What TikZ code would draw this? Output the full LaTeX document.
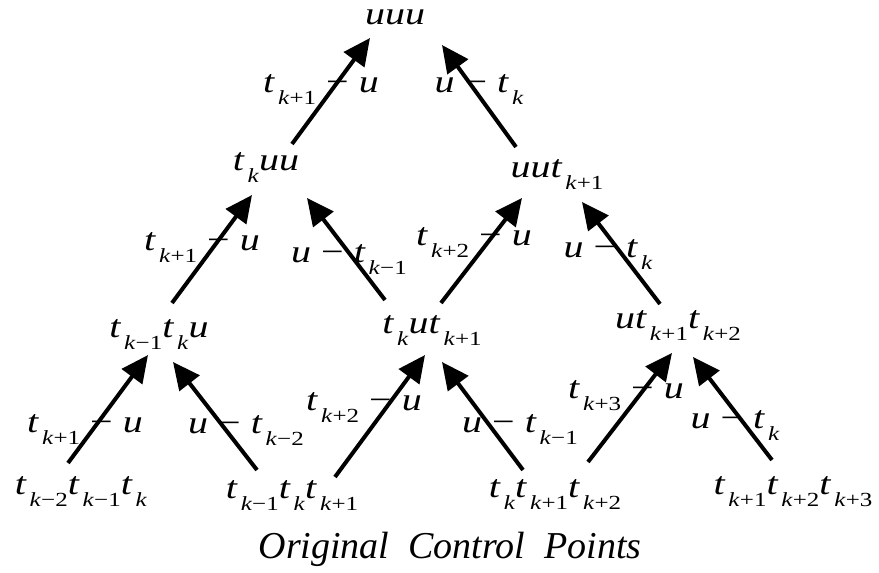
\documentclass[tikz,border=0pt]{standalone}
\usepackage{fontspec}
\setmainfont{Liberation Serif}
\newfontfamily\lblfont[FakeStretch=1.25]{Liberation Serif}
\usetikzlibrary{arrows.meta}
\newcommand{\tk}[1]{\textit{t}\kern1.5pt\raisebox{-6pt}{\fontsize{10}{10}\selectfont\textit{k}#1}}
\newcommand{\uu}{\textit{u}}
\tikzset{
	lbl/.style={anchor=base,inner sep=0pt,font=\lblfont\fontsize{16}{20}\selectfont},
	arr/.style={line width=2pt,-{Triangle[length=13.5pt,width=12.5pt]}}
}
\begin{document}
\begin{tikzpicture}[x=0.5pt,y=-0.5pt]
		\useasboundingbox (0,0) rectangle (879,573);
		% points of the triangle
		\node[lbl] (top) at (395,25) {\uu\uu\uu};
		\node[lbl] (r2a) at (266,170) {\tk{}\uu\uu};
		\node[lbl] (r2b) at (557,177) {\uu\uu\tk{+1}};
		\node[lbl] (r3a) at (159,337) {\tk{−1}\tk{}\uu};
		\node[lbl] (r3b) at (432,333) {\tk{}\uu\tk{+1}};
		\node[lbl] (r3c) at (678,328) {\uu\tk{+1}\tk{+2}};
		\node[lbl] (r4a) at (81,494) {\tk{−2}\tk{−1}\tk{}};
		\node[lbl] (r4b) at (292,498) {\tk{−1}\tk{}\tk{+1}};
		\node[lbl] (r4c) at (555,497) {\tk{}\tk{+1}\tk{+2}};
		\node[lbl] (r4d) at (793,494) {\tk{+1}\tk{+2}\tk{+3}};
		\node[anchor=base,inner sep=0pt,font=\fontsize{19}{23}\selectfont] (cap) at (450,558) {\textit{Original\ \ Control\ \ Points}};
		% bottom row
		\draw[arr] ([shift={(-13,-31)}]r4a.base) -- ([shift={(-11,18)}]r3a.base);
		\draw[arr] ([shift={(-35,-28)}]r4b.base) -- ([shift={(14,25)}]r3a.base);
		\draw[arr] ([shift={(43,-21)}]r4b.base) -- ([shift={(-7,22)}]r3b.base);
		\draw[arr] ([shift={(-32,-27)}]r4c.base) -- ([shift={(10,29)}]r3b.base);
		\draw[arr] ([shift={(33,-35)}]r4c.base) -- ([shift={(-6,25)}]r3c.base);
		\draw[arr] ([shift={(-21,-34)}]r4d.base) -- ([shift={(15,29)}]r3c.base);
		% middle row
		\draw[arr] ([shift={(13,-34)}]r3a.base) -- ([shift={(-14,25)}]r2a.base);
		\draw[arr] ([shift={(-47,-33)}]r3b.base) -- ([shift={(41,28)}]r2a.base);
		\draw[arr] ([shift={(9,-30)}]r3b.base) -- ([shift={(-35,21)}]r2b.base);
		\draw[arr] ([shift={(-18,-24)}]r3c.base) -- ([shift={(25,25)}]r2b.base);
		% top row
		\draw[arr] ([shift={(26,-26)}]r2a.base) -- ([shift={(-25,13)}]top.base);
		\draw[arr] ([shift={(-41,-30)}]r2b.base) -- ([shift={(47,20)}]top.base);
		% weights
		\node[lbl] (w1) at (85,432) {\tk{+1} − \uu};
		\node[lbl] (w2) at (246,433) {\uu\ − \tk{−2}};
		\node[lbl] (w3) at (364,410) {\tk{+2} − \uu};
		\node[lbl] (w4) at (520,432) {\uu\ − \tk{−1}};
		\node[lbl] (w5) at (626,398) {\tk{+3} − \uu};
		\node[lbl] (w6) at (735,428) {\uu\ − \tk{}};
		\node[lbl] (w7) at (202,250) {\tk{+1} − \uu};
		\node[lbl] (w8) at (349,262) {\uu\ − \tk{−1}};
		\node[lbl] (w9) at (474,245) {\tk{+2} − \uu};
		\node[lbl] (w10) at (608,257) {\uu\ − \tk{}};
		\node[lbl] (w11) at (321,92) {\tk{+1} − \uu};
		\node[lbl] (w12) at (479,92) {\uu\ − \tk{}};
\end{tikzpicture}
\end{document}
